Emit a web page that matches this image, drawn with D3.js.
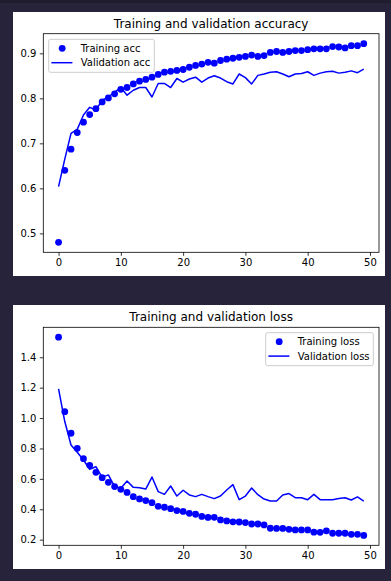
<!DOCTYPE html>
<html>
<head>
<meta charset="utf-8">
<script src="https://cdn.jsdelivr.net/npm/d3@7"></script>
<style>
  html, body { margin: 0; padding: 0; background: #26233a; }
  svg { display: block; }
  text { font-family: "DejaVu Sans", sans-serif; fill: #000; }
</style>
</head>
<body>
<svg id="chart" width="391" height="581"></svg>
<script>
const epochs = d3.range(50);
const xTicks = [0, 10, 20, 30, 40, 50];

const trainAcc = [0.480, 0.640, 0.687, 0.724, 0.747, 0.764, 0.777, 0.792, 0.801, 0.810,
  0.820, 0.824, 0.832, 0.838, 0.842, 0.847, 0.853, 0.858, 0.860, 0.862,
  0.864, 0.869, 0.873, 0.876, 0.880, 0.878, 0.884, 0.887, 0.889, 0.891,
  0.893, 0.896, 0.893, 0.895, 0.902, 0.904, 0.902, 0.904, 0.906, 0.906,
  0.908, 0.910, 0.910, 0.910, 0.915, 0.914, 0.912, 0.917, 0.917, 0.9215];
const valAcc = [0.604, 0.665, 0.722, 0.731, 0.763, 0.780, 0.774, 0.796, 0.803, 0.814,
  0.824, 0.807, 0.818, 0.824, 0.824, 0.803, 0.833, 0.833, 0.824, 0.844,
  0.836, 0.843, 0.847, 0.836, 0.845, 0.850, 0.845, 0.837, 0.832, 0.854,
  0.846, 0.832, 0.851, 0.854, 0.858, 0.859, 0.854, 0.848, 0.854, 0.855,
  0.859, 0.851, 0.856, 0.859, 0.860, 0.856, 0.858, 0.861, 0.857, 0.865];
const accTicks = [0.5, 0.6, 0.7, 0.8, 0.9];

const trainLoss = [1.532, 1.042, 0.900, 0.801, 0.733, 0.689, 0.643, 0.608, 0.577, 0.549,
  0.531, 0.511, 0.483, 0.468, 0.457, 0.443, 0.419, 0.413, 0.404, 0.391,
  0.386, 0.373, 0.367, 0.353, 0.346, 0.347, 0.330, 0.323, 0.317, 0.316,
  0.312, 0.303, 0.303, 0.297, 0.275, 0.274, 0.274, 0.268, 0.264, 0.264,
  0.264, 0.249, 0.248, 0.258, 0.242, 0.242, 0.242, 0.235, 0.235, 0.228];
const valLoss = [1.192, 0.977, 0.823, 0.775, 0.724, 0.663, 0.680, 0.610, 0.626, 0.549,
  0.538, 0.586, 0.544, 0.542, 0.533, 0.612, 0.516, 0.498, 0.553, 0.487,
  0.525, 0.494, 0.483, 0.498, 0.483, 0.470, 0.487, 0.527, 0.562, 0.463,
  0.487, 0.540, 0.496, 0.467, 0.454, 0.454, 0.494, 0.503, 0.476, 0.476,
  0.463, 0.498, 0.463, 0.463, 0.463, 0.470, 0.476, 0.461, 0.481, 0.454];
const lossTicks = [0.2, 0.4, 0.6, 0.8, 1.0, 1.2, 1.4];

const svg = d3.select("#chart");
svg.append("rect").attr("x", 0).attr("y", 0).attr("width", 391).attr("height", 3).attr("fill", "#1f1d2e");

function panel(cfg) {
  const g = svg.append("g");
  g.append("rect").attr("x", 13).attr("y", cfg.panelTop).attr("width", 372).attr("height", 264).attr("fill", "#fff");
  const left = 43.3, right = 379, top = cfg.top, bottom = cfg.bottom;
  const x = d3.scaleLinear().domain([-2.45, 51.45]).range([left, right]);
  const all = cfg.train.concat(cfg.val);
  const lo = d3.min(all), hi = d3.max(all), m = (hi - lo) * 0.05;
  const y = d3.scaleLinear().domain([lo - m, hi + m]).range([bottom, top]);

  // axes
  const xa = g.append("g").attr("transform", `translate(0,${bottom})`)
    .call(d3.axisBottom(x).tickValues(xTicks).tickFormat(d3.format("d")).tickSize(3.5).tickPadding(3.5));
  const ya = g.append("g").attr("transform", `translate(${left},0)`)
    .call(d3.axisLeft(y).tickValues(cfg.ticks).tickFormat(d3.format(".1f")).tickSize(3.5).tickPadding(3.5));
  [xa, ya].forEach(a => {
    a.select(".domain").remove();
    a.selectAll(".tick line").attr("stroke", "#000").attr("stroke-width", 0.8);
    a.selectAll(".tick text").attr("font-size", 10).attr("font-family", "DejaVu Sans").attr("fill", "#000");
  });

  // data
  g.append("g").selectAll("circle").data(cfg.train).join("circle")
    .attr("cx", (d, i) => x(epochs[i])).attr("cy", d => y(d)).attr("r", 3.4).attr("fill", "#0000ff");
  g.append("path").datum(cfg.val)
    .attr("d", d3.line().x((d, i) => x(epochs[i])).y(d => y(d)))
    .attr("fill", "none").attr("stroke", "#0000ff").attr("stroke-width", 1.5).attr("stroke-linejoin", "round");

  // frame
  g.append("rect").attr("x", left).attr("y", top).attr("width", right - left).attr("height", bottom - top)
    .attr("fill", "none").attr("stroke", "#000").attr("stroke-width", 0.8);

  // title
  g.append("text").attr("x", (left + right) / 2).attr("y", top - 6).attr("text-anchor", "middle")
    .attr("font-size", 12).text(cfg.title);

  // legend
  const L = cfg.legend;
  const lg = g.append("g");
  lg.append("rect").attr("x", L.x).attr("y", L.y).attr("width", L.w).attr("height", 33).attr("rx", 2)
    .attr("fill", "#fff").attr("fill-opacity", 0.8).attr("stroke", "#cccccc").attr("stroke-width", 1);
  lg.append("circle").attr("cx", L.x + 13.5).attr("cy", L.y + 9).attr("r", 3.4).attr("fill", "#0000ff");
  lg.append("line").attr("x1", L.x + 2.7).attr("x2", L.x + 23.7).attr("y1", L.y + 23.4).attr("y2", L.y + 23.4)
    .attr("stroke", "#0000ff").attr("stroke-width", 1.5);
  lg.append("text").attr("x", L.x + 32).attr("y", L.y + 12.6).attr("font-size", 10).text(cfg.labels[0]);
  lg.append("text").attr("x", L.x + 32).attr("y", L.y + 27).attr("font-size", 10).text(cfg.labels[1]);
}

panel({
  panelTop: 12, top: 33.7, bottom: 252.3,
  train: trainAcc, val: valAcc, ticks: accTicks,
  title: "Training and validation accuracy",
  labels: ["Training acc", "Validation acc"],
  legend: { x: 48.7, y: 39.3, w: 105.6 }
});
panel({
  panelTop: 305, top: 327.3, bottom: 545.3,
  train: trainLoss, val: valLoss, ticks: lossTicks,
  title: "Training and validation loss",
  labels: ["Training loss", "Validation loss"],
  legend: { x: 265.7, y: 332.7, w: 107.6 }
});
</script>
</body>
</html>
